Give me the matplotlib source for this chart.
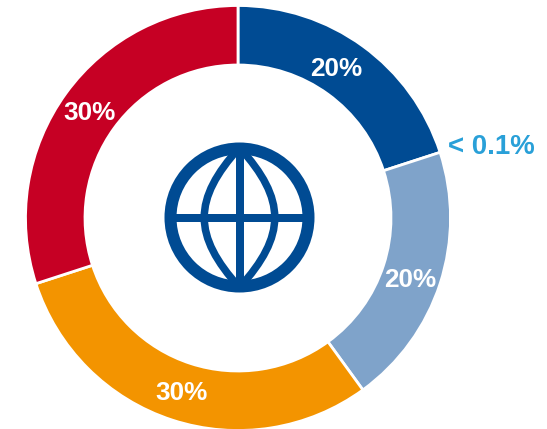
import matplotlib
matplotlib.use("Agg")
import matplotlib.pyplot as plt
from matplotlib.patches import Circle, PathPatch
from matplotlib.path import Path

# Anteile im Uhrzeigersinn, oben beginnend
werte = [20, 20, 30, 30]
labels = ["20%", "20%", "30%", "30%"]
farben = ["#004B93", "#7FA3CA", "#F39400", "#C60024"]
extra_label = "< 0.1%"

plt.rcParams["font.family"] = ["Liberation Sans", "DejaVu Sans"]

W, H = 547, 429
fig = plt.figure(figsize=(W / 100, H / 100), dpi=100)
ax = fig.add_axes([0, 0, 1, 1])


def py(y):
    # Pixel von oben nach Achsen-y
    return H - y


cx, cy, R = 238, py(218), 212.5
ax.pie(werte, colors=farben, startangle=90, counterclock=False, center=(cx, cy), radius=R,
       wedgeprops=dict(width=R - 153, edgecolor="white", linewidth=2), frame=False)
ax.set_xlim(0, W)
ax.set_ylim(0, H)
ax.set_aspect("equal")
ax.axis("off")

# Prozentwerte
pos = [(336.5, 68.5), (410, 280), (182, 393), (90, 113)]
for txt, (x, y) in zip(labels, pos):
    ax.text(x, py(y), txt, color="white", fontsize=18.8, fontweight="bold", ha="center", va="center")
ax.text(491.5, py(146.5), extra_label, color="#29A0D8", fontsize=19.9, fontweight="bold",
        ha="center", va="center")

# Globus in der Mitte
blau = "#004B93"
gx, gy = 239.5, py(217.5)
ax.add_patch(Circle((gx, gy), 69, fill=False, edgecolor=blau, linewidth=12 * 0.72))
ax.plot([gx, gx], [gy - 69, gy + 69], color=blau, lw=8 * 0.72, solid_capstyle="butt")
ax.plot([gx - 69, gx + 69], [gy, gy], color=blau, lw=8 * 0.72, solid_capstyle="butt")
for s in (-1, 1):
    kurve = Path([(gx, gy + 70), (gx + s * 47, gy + 18), (gx + s * 47, gy - 18), (gx, gy - 70)],
                 [Path.MOVETO, Path.CURVE4, Path.CURVE4, Path.CURVE4])
    ax.add_patch(PathPatch(kurve, fill=False, edgecolor=blau, linewidth=7.5 * 0.72))

fig.savefig("out.png", dpi=100)
